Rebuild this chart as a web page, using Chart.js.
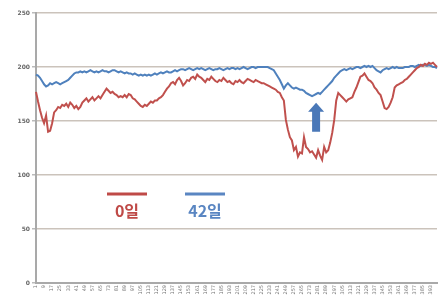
<!DOCTYPE html>
<html>
<head>
<meta charset="utf-8">
<script src="https://cdn.jsdelivr.net/npm/chart.js@4/dist/chart.umd.min.js"></script>
<style>
  html, body { margin: 0; padding: 0; background: #fff; }
  #wrap { width: 446px; height: 297px; }
</style>
</head>
<body>
<div id="wrap"><canvas id="chart" width="446" height="297"></canvas></div>
<script>
// --- data (every other sample) ---
const day0 = [
  177,168,160,153,148,155,140,141,148,158, 160,163,162,165,164,166,163,167,165,162,
  164,161,163,167,169,171,168,170,172,169, 171,173,171,174,177,180,178,176,177,175,
  174,172,173,172,174,172,175,174,171,170, 168,166,164,163,165,164,166,168,167,169,
  169,171,172,174,177,180,182,185,186,184, 188,190,187,183,185,188,187,190,191,189,
  193,191,190,188,186,189,188,191,189,187, 186,188,187,190,188,186,187,185,184,187,
  186,188,186,185,187,189,188,187,186,188, 187,186,185,185,184,183,182,181,180,179,
  177,176,172,169,151,142,135,132,123,126, 117,121,120,135,126,124,121,122,119,116,
  123,118,114,126,121,123,130,139,151,169, 176,174,172,170,168,170,171,172,177,181,
  186,191,192,194,191,188,187,185,181,179, 176,174,168,162,161,163,167,172,181,183,
  184,185,186,188,189,191,193,195,197,199, 200,202,201,203,202,204,203,204,202,200
];
const day42 = [
  193,192,190,187,184,182,183,185,184,185, 186,185,184,185,186,187,188,190,192,194,
  195,195,196,195,196,195,196,197,196,195, 196,195,196,197,196,196,195,196,197,197,
  196,195,196,195,194,195,194,194,193,194, 193,192,193,192,193,192,193,192,193,194,
  193,194,195,194,195,196,195,195,196,197, 196,197,198,198,197,198,199,198,197,198,
  199,198,199,198,197,198,199,198,197,198, 198,199,198,197,198,199,198,199,199,198,
  199,198,199,200,199,198,199,200,200,199, 200,200,200,200,200,200,199,198,197,194,
  191,188,184,180,183,185,183,181,180,181, 180,179,179,178,176,175,174,173,174,175,
  176,175,177,179,181,183,185,187,190,192, 194,196,197,198,197,198,199,198,199,200,
  200,199,200,201,200,201,200,201,199,197, 196,195,197,198,199,198,199,200,199,200,
  199,199,199,200,200,200,201,201,200,201, 202,201,202,202,201,202,201,200,200,199
];
const samples = day0.map((v, i) => String(1 + i * 2));
const yTicks = [0, 50, 100, 150, 200, 250];
const seriesNames = ["0일", "42일"];
const arrowAt = { index: 139, from: 140, to: 167 };

const RED = "#c0504d";
const BLUE = "#4f81bd";

// legend + arrow drawn straight onto the canvas
const extras = {
  id: "extras",
  afterDatasetsDraw(chart) {
    const ctx = chart.ctx;
    const xs = chart.scales.x, ys = chart.scales.y;

    // blue up arrow
    const ax = xs.getPixelForValue(arrowAt.index);
    const yb = ys.getPixelForValue(arrowAt.from);
    const yt = ys.getPixelForValue(arrowAt.to);
    ctx.save();
    ctx.fillStyle = "#4a78b8";
    ctx.beginPath();
    ctx.moveTo(ax - 4, yb);
    ctx.lineTo(ax - 4, yt + 9);
    ctx.lineTo(ax - 8, yt + 9);
    ctx.lineTo(ax, yt);
    ctx.lineTo(ax + 8, yt + 9);
    ctx.lineTo(ax + 4, yt + 9);
    ctx.lineTo(ax + 4, yb);
    ctx.closePath();
    ctx.fill();

    // legend
    const items = [
      { name: seriesNames[0], color: "#bf4a47", cx: 127 },
      { name: seriesNames[1], color: "#5a86c2", cx: 205 }
    ];
    items.forEach(it => {
      ctx.strokeStyle = it.color;
      ctx.lineWidth = 3;
      ctx.beginPath();
      ctx.moveTo(it.cx - 20, 194);
      ctx.lineTo(it.cx + 20, 194);
      ctx.stroke();
      ctx.fillStyle = it.color;
      ctx.textAlign = "center";
      ctx.textBaseline = "middle";
      ctx.font = "bold 16px 'Noto Sans CJK KR', 'Noto Sans', sans-serif";
      ctx.fillText(it.name, it.cx, 211);
    });
    ctx.restore();
  }
};

new Chart(document.getElementById("chart"), {
  type: "line",
  data: {
    labels: samples,
    datasets: [
      { label: seriesNames[0], data: day0, borderColor: RED, borderWidth: 2, pointRadius: 0, tension: 0, fill: false },
      { label: seriesNames[1], data: day42, borderColor: BLUE, borderWidth: 2, pointRadius: 0, tension: 0, fill: false }
    ]
  },
  options: {
    responsive: false,
    animation: false,
    layout: { padding: { top: 13, right: 9, left: 0, bottom: 0 } },
    plugins: { legend: { display: false }, tooltip: { enabled: false } },
    scales: {
      x: {
        offset: false,
        afterFit(scale) { scale.height = 14; },
        grid: { display: false, drawTicks: false },
        border: { color: "#a9a9a9", width: 2 },
        ticks: {
          autoSkip: false,
          maxRotation: 90,
          minRotation: 90,
          padding: 2,
          color: "#777",
          font: { size: 5, family: "DejaVu Sans" },
          callback(v, i) { return i % 4 === 0 ? samples[i] : ""; }
        }
      },
      y: {
        min: 0,
        max: 250,
        afterFit(scale) { scale.width = 36; },
        afterBuildTicks(scale) { scale.ticks = yTicks.map(v => ({ value: v })); },
        grid: { color: "#cbc3bb", lineWidth: 1.5, drawTicks: true, tickLength: 4, tickColor: "#bbb" },
        border: { color: "#a9a9a9", width: 2 },
        ticks: {
          padding: 2,
          color: "#666",
          font: { size: 6, weight: "bold", family: "DejaVu Sans" }
        }
      }
    }
  },
  plugins: [extras]
});
</script>
</body>
</html>
